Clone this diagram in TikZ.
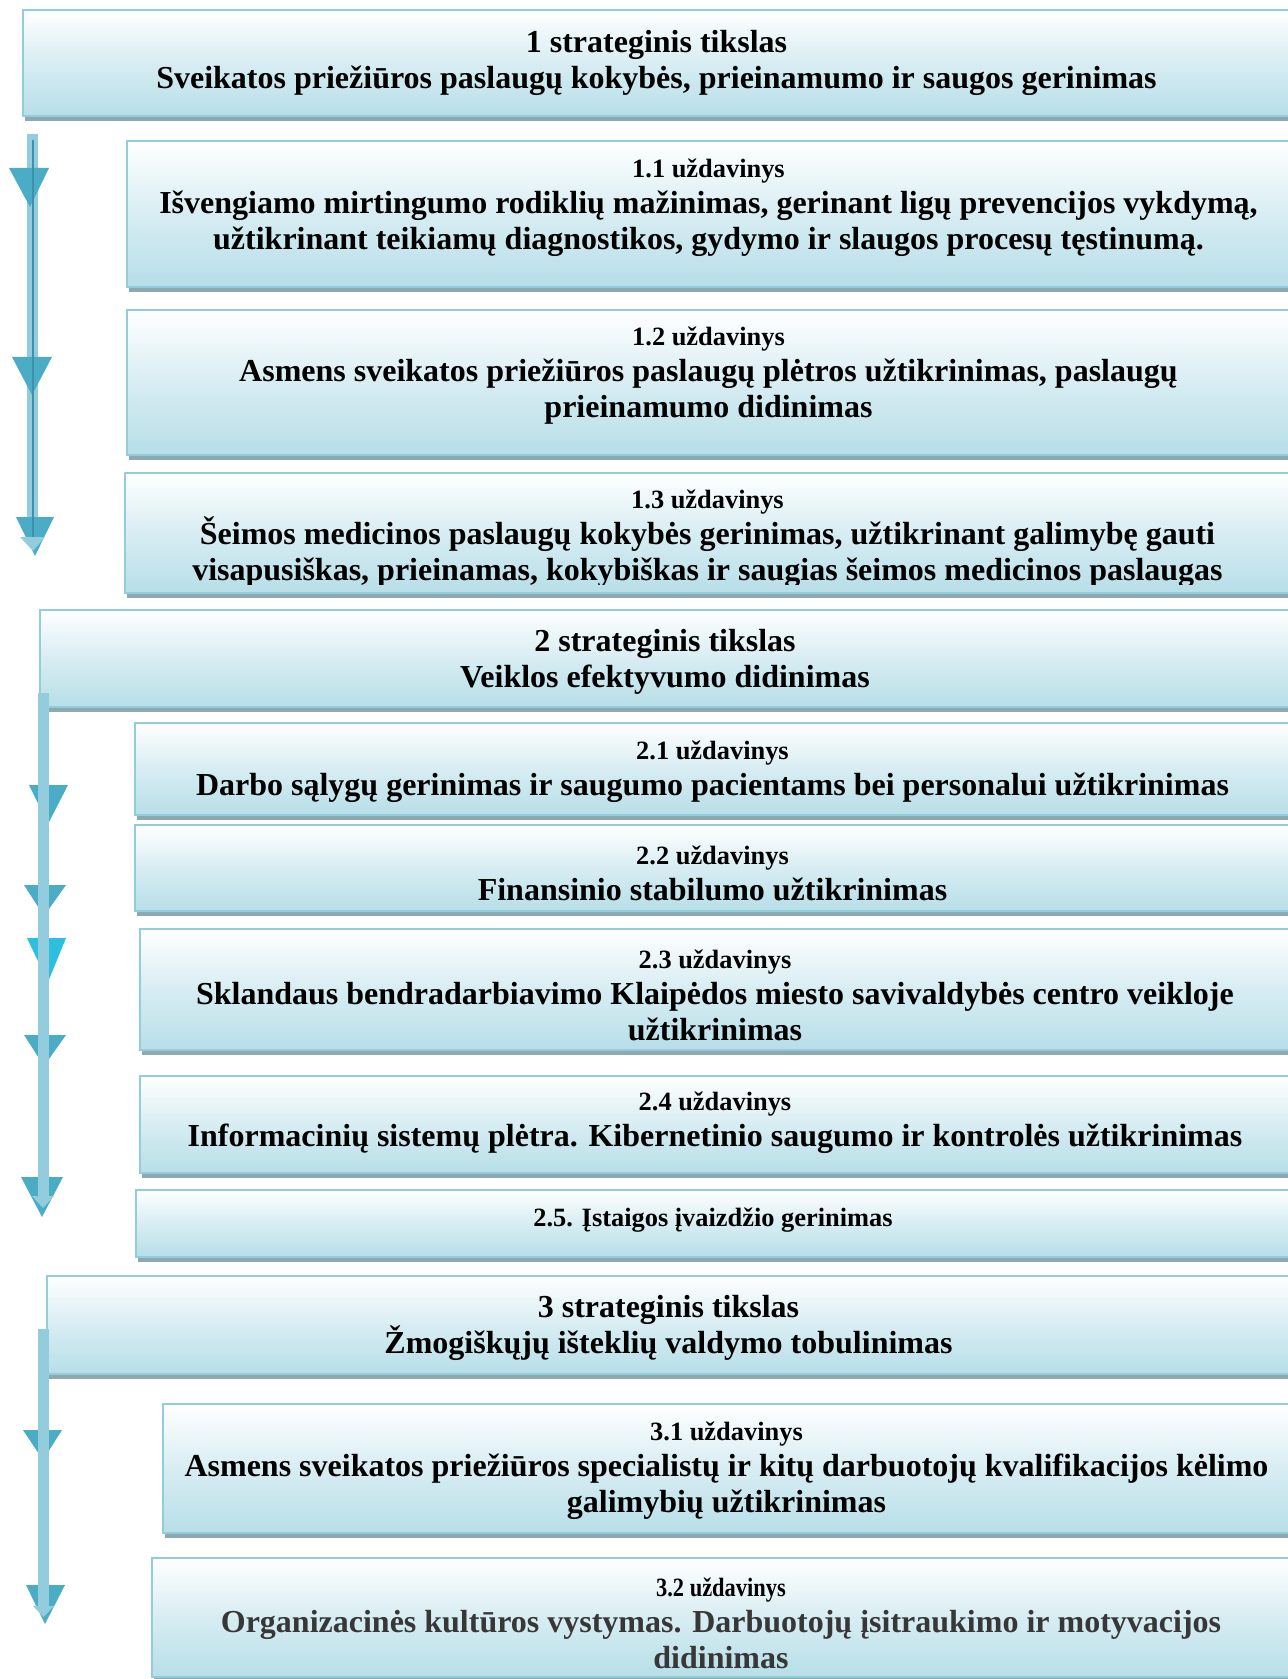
\documentclass[tikz,border=0pt]{standalone}
\usepackage{fontspec}
\setmainfont{Liberation Serif}
\newfontfamily\condfont[FakeStretch=0.85]{Liberation Serif}
\definecolor{bordc}{RGB}{146,205,220}
\definecolor{fillc}{RGB}{183,222,232}
\definecolor{shadowc}{RGB}{141,168,175}
\definecolor{shaftc}{RGB}{147,205,221}
\definecolor{headc}{RGB}{75,172,198}
\definecolor{cyanc}{RGB}{44,192,222}
\definecolor{darkc}{RGB}{62,145,170}
\definecolor{grayt}{RGB}{55,55,55}
\newcommand\labf{\fontsize{13.2}{17}\selectfont}
\newcommand\mnf{\fontsize{16}{18}\selectfont}
\tikzset{
  tbox/.style={draw=bordc, line width=1pt, top color=white, bottom color=fillc,
    middle color=fillc!55!white, inner sep=0pt, outer sep=0pt, anchor=north west},
  txt/.style={align=center, inner sep=0pt, font=\bfseries\mnf},
  shaft/.style={draw=shaftc, line width=5.5pt, line cap=butt},
}
\newcommand\mkbox[5]{%
  \fill[shadowc] ({#2+2},{#3+5}) rectangle ({#4+2},{#5+5});
  \node[tbox, minimum width={(#4-#2)*0.5pt}, minimum height={(#5-#3)*0.5pt}] (#1) at (#2,#3) {};
}
\begin{document}
\begin{tikzpicture}[x=0.5pt,y=-0.5pt]
\useasboundingbox (0,0) rectangle (1288,1679);
\clip (0,0) rectangle (1288,1679);
\fill[white] (0,0) rectangle (1288,1679);

% ---------- boxes ----------
\mkbox{b1}{23}{10}{1292}{116}
\mkbox{b11}{127}{141}{1292}{287}
\mkbox{b12}{127}{310}{1292}{455}
\mkbox{b13}{125}{473}{1292}{593}
\mkbox{b2}{40}{610}{1292}{707}
\mkbox{b21}{135}{723}{1292}{815}
\mkbox{b22}{135}{825}{1292}{911}
\mkbox{b23}{140}{929}{1292}{1050}
\mkbox{b24}{140}{1076}{1292}{1173}
\mkbox{b25}{136}{1190}{1292}{1257}
\mkbox{b3}{47}{1276}{1292}{1374}
\mkbox{b31}{163}{1404}{1292}{1533}
\mkbox{b32}{152}{1558}{1292}{1677}

% ---------- texts ----------
\node[txt] (t1) at (656.5,62.5) {1 strateginis tikslas\\Sveikatos priežiūros paslaugų kokybės, prieinamumo ir saugos gerinimas};
\node[txt] (t11) at (708.5,208) {{\labf 1.1 uždavinys}\\Išvengiamo mirtingumo rodiklių mažinimas, gerinant ligų prevencijos vykdymą,\\užtikrinant teikiamų diagnostikos, gydymo ir slaugos procesų tęstinumą.};
\node[txt] (t12) at (708.5,376) {{\labf 1.2 uždavinys}\\Asmens sveikatos priežiūros paslaugų plėtros užtikrinimas, paslaugų\\prieinamumo didinimas};
\begin{scope}
\clip (125,473) rectangle (1292,584);
\node[txt] (t13) at (707.5,539) {{\labf 1.3 uždavinys}\\Šeimos medicinos paslaugų kokybės gerinimas, užtikrinant galimybę gauti\\visapusiškas, prieinamas, kokybiškas ir saugias šeimos medicinos paslaugas};
\end{scope}
\node[txt] (t2) at (665,662) {2 strateginis tikslas\\Veiklos efektyvumo didinimas};
\node[txt] (t21) at (712.5,771.5) {{\labf 2.1 uždavinys}\\Darbo sąlygų gerinimas ir saugumo pacientams bei personalui užtikrinimas};
\node[txt] (t22) at (712.5,873.5) {{\labf 2.2 uždavinys}\\Finansinio stabilumo užtikrinimas};
\node[txt] (t23) at (715,995.5) {{\labf 2.3 uždavinys}\\Sklandaus bendradarbiavimo Klaipėdos miesto savivaldybės centro veikloje\\užtikrinimas};
\node[txt] (t24) at (715,1123) {{\labf 2.4 uždavinys}\\Informacinių sistemų plėtra. Kibernetinio saugumo ir kontrolės užtikrinimas};
\node[txt, font=\bfseries\labf] (t25) at (713,1220) {2.5. Įstaigos įvaizdžio gerinimas};
\node[txt] (t3) at (668.5,1328) {3 strateginis tikslas\\Žmogiškųjų išteklių valdymo tobulinimas};
\node[txt] (t31) at (726.5,1470.5) {{\labf 3.1 uždavinys}\\Asmens sveikatos priežiūros specialistų ir kitų darbuotojų kvalifikacijos kėlimo\\galimybių užtikrinimas};
\node[txt, text=grayt] (t32) at (721,1623) {{\color{black}\condfont\labf 3.2 uždavinys}\\Organizacinės kultūros vystymas. Darbuotojų įsitraukimo ir motyvacijos\\didinimas};

% ---------- arrow 1 ----------
\coordinate (a1s) at (32.5,134);
\coordinate (a1e) at (32.5,540);
\coordinate (a1d) at (32.5,140);
\draw[shaft] (a1s) -- (a1e);
\fill[headc] (9,168) -- (49,168) -- (30,207) -- cycle;
\fill[headc] (12,357) -- (52,357) -- (32,395) -- cycle;
\fill[headc] (16,517) -- (54,517) -- (35,556) -- cycle;
\draw[darkc, line width=1pt] (a1d) -- (a1e);
\fill[shaftc] (20,537) -- (45,537) -- (33,551) -- cycle;

% ---------- arrow 2 ----------
\coordinate (a2s) at (43,693);
\coordinate (a2e) at (43,1196);
\fill[headc] (29,785) -- (68,785) -- (48,824) -- cycle;
\fill[headc] (24,885) -- (66,885) -- (44,916) -- cycle;
\fill[cyanc] (27,938) -- (66,938) -- (48,982) -- cycle;
\fill[headc] (24,1035) -- (66,1035) -- (44,1066) -- cycle;
\fill[headc] (21,1177) -- (63,1177) -- (42,1217) -- cycle;
\draw[shaft] (a2s) -- (a2e);
\fill[shaftc] (32,1196) -- (54,1196) -- (43,1208) -- cycle;

% ---------- arrow 3 ----------
\coordinate (a3s) at (43.5,1329);
\coordinate (a3e) at (43.5,1606);
\fill[headc] (23,1430) -- (62,1430) -- (43,1460) -- cycle;
\fill[headc] (26,1585) -- (65,1585) -- (45,1624) -- cycle;
\draw[shaft] (a3s) -- (a3e);
\fill[shaftc] (33,1606) -- (54,1606) -- (43.5,1617) -- cycle;
\end{tikzpicture}
\end{document}
